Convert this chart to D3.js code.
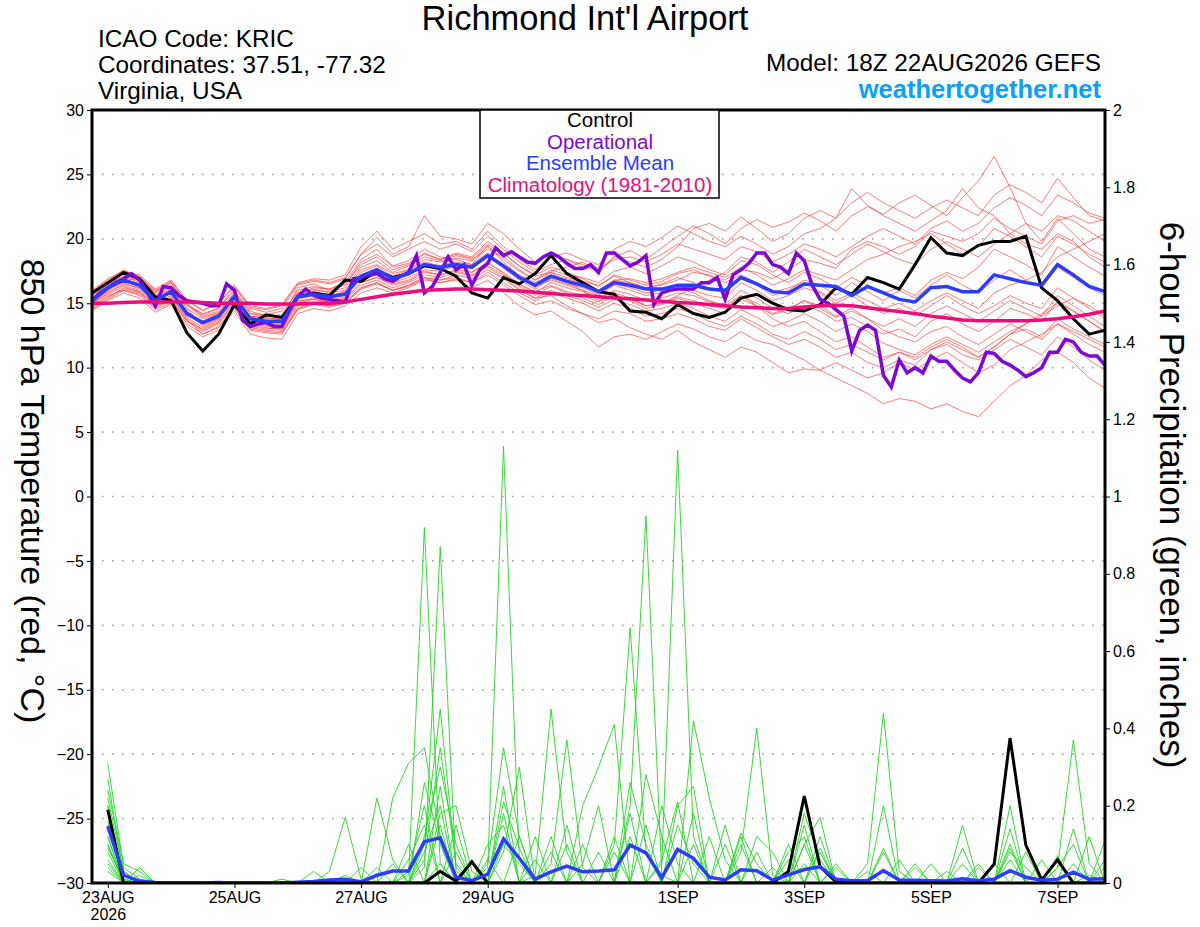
<!DOCTYPE html>
<html>
<head>
<meta charset="utf-8">
<script src="https://cdn.jsdelivr.net/npm/d3@7"></script>
<style>
  body { margin: 0; background: #fff; }
  svg text { font-family: "Liberation Sans", Arial, Helvetica, sans-serif; }
</style>
</head>
<body>
<svg id="chart" width="1200" height="927"></svg>
<script>
// ---- data (6-hourly from 22AUG 18Z, operational 3-hourly) ----
var controlTemp = [15.8,16.6,17.4,16.9,15.5,15.2,12.7,11.3,12.6,14.9,13.4,14.1,13.9,
  15.5,15.8,15.6,16.8,16.7,17.5,17.0,17.3,17.9,17.7,17.1,15.8,15.4,
  17.0,16.5,17.3,18.7,17.3,16.6,15.9,15.7,14.4,14.3,13.8,14.9,14.2,
  13.9,14.3,15.4,15.7,15.0,14.5,14.4,14.9,16.2,15.7,17.0,16.6,16.1,
  18.0,20.1,18.9,18.7,19.5,19.8,19.8,20.2,16.2,15.2,13.8,12.6,12.9];

var meanTemp = [15.2,16.2,16.8,16.4,15.2,15.9,14.2,13.5,14.0,15.5,13.8,13.6,13.6,
  15.5,15.7,15.5,15.7,17.1,17.6,16.9,17.3,18.0,17.8,18.0,17.8,18.7,
  17.9,17.0,16.4,17.1,16.7,16.4,15.9,16.6,16.4,16.1,16.1,16.4,16.4,
  16.1,16.0,17.0,16.5,15.9,15.8,16.5,16.4,16.3,15.6,16.3,15.8,15.3,
  15.1,16.2,16.3,15.9,15.9,17.2,16.9,16.6,16.4,18.0,17.2,16.3,15.9];

var climoTemp = [15.0,15.0,15.05,15.1,15.1,15.1,15.1,15.05,15.0,
  15.0,15.0,14.95,14.95,14.95,15.0,15.0,15.1,
  15.3,15.5,15.7,15.85,16.0,16.05,16.1,16.1,
  16.05,16.0,15.95,15.85,15.75,15.65,15.6,15.5,
  15.4,15.35,15.25,15.15,15.05,15.0,14.9,14.8,
  14.7,14.65,14.6,14.6,14.7,14.8,14.85,14.8,
  14.65,14.5,14.35,14.2,14.0,13.85,13.7,13.65,
  13.65,13.65,13.65,13.7,13.8,13.95,14.15,14.4];

// operational run, 3-hourly
var operTemp = [15.2,15.8,16.2,16.6,16.9,17.3,16.8,15.8,14.8,16.3,
  16.2,15.6,15.2,15.1,15.0,14.8,14.8,16.5,16.0,13.7,
  13.2,13.4,13.5,13.2,13.2,14.5,15.5,16.1,15.6,15.4,
  15.3,15.2,15.1,16.9,17.0,17.2,17.3,16.9,16.7,17.1,
  17.4,18.7,15.8,16.3,17.4,18.6,17.6,18.0,16.4,17.6,
  18.1,19.3,18.7,19.0,18.6,18.2,18.1,18.6,18.9,18.6,
  18.1,17.7,17.7,18.0,17.4,18.9,18.9,18.4,17.9,18.2,
  18.7,14.9,15.8,16.0,16.1,16.1,16.1,16.6,16.6,17.0,
  15.3,17.2,17.6,18.1,18.9,18.9,18.0,17.8,17.3,18.9,
  18.3,16.4,15.3,15.0,14.5,14.0,11.3,12.9,13.3,12.9,
  9.4,8.5,10.6,9.6,10.0,9.6,10.9,10.5,10.5,9.8,
  9.2,8.9,9.6,11.2,11.1,10.5,10.2,9.8,9.3,9.6,
  10.0,11.2,11.2,12.2,12.0,11.2,10.9,10.9,10.2];

// perturbed members, 850 hPa temperature
var memberTemp = [
  [15.0,16.0,16.9,16.8,15.6,16.3,14.6,13.2,13.8,15.9,14.4,14.0,13.9,
   16.2,16.5,16.0,16.4,18.2,18.8,17.9,18.3,19.2,18.6,18.4,18.0,19.5,
   18.2,17.1,16.2,17.5,17.8,18.2,17.4,18.6,19.1,18.4,19.3,20.2,21.0,
   20.4,19.6,20.8,21.5,20.9,21.3,22.0,21.4,20.6,21.8,22.5,21.9,22.8,
   23.4,22.6,21.8,23.2,24.5,26.4,24.0,21.2,19.8,21.6,20.4,19.2,18.6],
  [14.6,15.4,16.2,15.9,14.8,15.2,13.6,12.8,13.4,14.8,13.1,12.9,12.8,
   14.6,15.0,14.8,15.2,16.4,16.8,16.2,16.6,17.2,17.0,17.4,17.1,17.8,
   17.0,16.1,15.4,15.6,14.8,14.2,13.5,13.8,13.1,12.6,12.2,12.9,12.0,
   11.4,10.8,11.6,11.2,10.4,9.6,9.9,9.8,9.2,8.6,8.0,7.2,7.6,
   7.4,6.8,7.2,6.6,6.2,7.4,8.6,9.4,10.6,11.2,10.4,9.2,8.4],
  [15.6,16.5,17.1,16.6,15.4,16.1,14.8,14.2,14.6,16.0,14.2,14.1,14.4,
   15.8,16.2,16.1,16.6,18.4,19.2,17.8,18.1,18.9,18.4,18.8,18.5,19.6,
   18.8,17.9,17.2,17.8,17.4,16.9,16.3,17.2,16.8,16.4,16.7,17.3,17.6,
   17.1,16.8,17.6,17.4,16.9,17.6,18.4,18.1,17.7,19.2,19.8,19.4,18.8,
   19.4,20.6,20.2,19.8,20.4,21.6,20.8,20.2,19.6,21.4,21.8,21.2,21.5],
  [14.9,15.8,16.5,16.2,15.0,15.6,13.8,12.9,13.5,15.1,13.2,13.0,13.1,
   15.1,15.4,15.2,15.5,16.9,17.2,16.6,17.0,17.6,17.5,17.9,17.4,18.1,
   17.4,16.5,15.9,16.4,15.9,15.6,15.1,15.7,15.2,14.6,14.9,15.4,15.0,
   14.6,14.2,15.3,14.8,14.1,14.5,15.2,14.6,13.9,14.4,13.8,12.9,12.4,
   12.0,12.8,13.2,12.4,11.8,12.6,13.4,12.8,12.2,13.4,12.6,11.8,11.2],
  [15.4,16.3,17.0,16.9,15.8,16.4,14.9,13.9,14.3,15.7,14.0,13.9,13.7,
   15.7,16.0,15.9,16.2,17.8,18.3,17.4,17.9,18.6,18.3,18.7,18.4,19.2,
   18.6,17.6,16.8,17.6,17.2,17.0,16.6,17.5,17.8,17.3,17.9,18.6,18.2,
   17.6,17.2,18.3,18.0,17.2,16.6,17.4,16.9,16.2,17.0,16.4,15.8,16.2,
   15.6,16.8,17.4,16.9,17.8,19.2,18.6,18.0,17.2,19.4,18.6,17.8,17.1],
  [15.0,15.9,16.4,16.0,14.9,15.5,14.0,13.6,14.2,15.3,13.5,13.3,13.2,
   15.2,15.3,15.1,15.3,16.6,17.0,16.5,16.8,17.5,17.2,17.6,17.4,18.2,
   17.3,16.4,15.8,16.6,16.2,15.9,15.4,16.0,15.7,15.2,15.4,15.8,15.6,
   15.1,14.9,16.0,15.4,14.6,14.2,14.8,14.4,13.6,13.9,13.2,12.6,13.0,
   12.4,13.6,14.2,13.4,12.8,13.6,14.6,14.2,13.6,15.2,14.4,13.6,12.8],
  [15.8,16.7,17.4,17.2,16.1,16.8,15.2,14.4,15.0,16.4,14.8,14.6,14.9,
   16.6,16.9,16.8,17.2,19.4,20.6,19.2,19.8,20.4,19.6,19.8,19.2,20.6,
   19.4,18.4,17.6,18.6,18.9,18.4,18.0,19.2,19.8,19.4,20.1,21.0,20.4,
   19.8,19.4,20.2,19.6,18.8,19.4,20.4,20.8,21.6,23.9,22.6,21.8,21.2,
   20.6,21.4,22.2,23.9,22.4,21.8,20.4,19.6,19.2,20.4,19.8,18.6,17.8],
  [14.4,15.2,15.8,15.4,14.3,14.9,13.2,12.4,12.9,14.4,12.6,12.3,12.2,
   14.2,14.6,14.4,14.8,15.8,16.2,15.8,16.2,16.8,16.6,16.9,16.6,17.2,
   16.4,15.6,14.9,15.2,14.6,14.2,13.8,14.4,14.2,13.6,13.8,14.2,13.8,
   13.2,12.9,13.8,13.1,12.4,11.8,12.2,11.6,10.8,11.2,10.4,10.0,10.6,
   10.2,11.4,11.8,11.0,10.6,11.4,12.2,11.6,11.0,12.4,11.6,10.6,9.8],
  [15.3,16.1,16.7,16.3,15.3,16.0,14.4,13.4,13.8,15.4,13.7,13.5,13.4,
   15.4,15.9,15.6,15.9,17.4,17.9,17.1,17.6,18.2,17.9,18.2,18.0,18.9,
   18.0,17.2,16.6,17.2,16.9,16.6,16.0,16.8,16.9,16.6,16.9,17.4,17.8,
   17.4,17.0,17.8,17.2,16.4,16.9,17.6,17.2,16.8,17.6,18.4,18.8,19.4,
   19.8,20.4,19.6,18.8,19.4,20.8,20.2,19.4,18.6,20.2,19.6,18.8,18.2],
  [14.8,15.6,16.0,15.6,14.6,15.2,13.6,13.0,13.6,15.0,13.3,13.1,12.9,
   14.8,15.0,14.9,15.1,16.2,16.6,16.0,16.3,16.9,16.6,16.8,16.2,16.8,
   15.8,14.8,14.1,14.4,13.6,12.8,11.6,12.4,12.6,12.2,12.8,13.4,13.0,
   12.4,12.0,12.8,12.1,11.8,11.2,10.6,9.8,10.4,9.8,9.2,9.6,10.4,
   9.8,10.6,11.2,10.4,9.6,10.2,11.4,12.0,12.6,13.4,12.8,12.2,11.6],
  [15.5,16.4,17.2,16.8,15.5,16.2,14.6,13.8,14.2,15.6,14.0,13.8,13.8,
   15.8,16.1,15.8,16.0,17.6,18.0,17.3,17.6,18.4,18.2,18.5,18.3,19.4,
   18.4,17.5,16.8,17.4,17.0,16.7,16.4,17.1,16.6,16.2,16.4,16.8,17.4,
   17.2,16.6,17.2,16.6,15.8,16.2,16.6,15.9,15.2,15.8,15.2,14.6,15.0,
   14.4,15.2,15.8,15.2,14.6,15.8,16.4,16.8,17.4,18.6,19.2,19.8,20.4],
  [14.7,15.5,16.1,15.8,14.7,15.3,13.7,12.6,13.1,14.6,12.9,12.7,12.6,
   14.5,14.9,14.7,15.0,16.1,16.5,16.0,16.4,17.0,16.8,17.2,16.9,17.6,
   16.9,16.0,15.4,16.0,15.6,15.2,14.7,15.3,14.9,14.4,14.6,15.0,14.6,
   14.0,13.6,14.5,13.9,13.2,13.6,14.2,13.6,12.8,13.4,12.8,11.9,11.4,
   11.0,11.8,12.4,11.8,11.2,12.0,12.8,13.4,14.0,14.8,15.4,14.6,13.8],
  [15.9,16.8,17.6,17.0,15.9,16.6,15.0,14.1,14.6,16.2,14.6,14.3,14.6,
   16.4,16.7,16.5,16.9,18.8,19.6,18.6,19.2,19.8,19.2,19.6,19.0,20.2,
   19.2,18.2,17.4,18.0,18.4,18.0,17.6,18.4,18.6,18.2,18.8,19.6,19.2,
   18.8,18.4,19.4,19.0,18.2,18.8,19.6,19.2,18.6,19.4,20.2,20.8,20.2,
   19.6,20.8,21.4,20.6,21.2,22.4,23.2,22.6,21.8,23.4,22.8,22.0,21.6],
  [15.1,16.0,16.6,16.1,15.1,15.8,14.1,13.3,13.9,15.4,13.6,13.4,13.3,
   15.3,15.6,15.4,15.6,17.0,17.5,16.8,17.2,17.9,17.6,18.0,17.7,18.6,
   17.7,16.8,16.1,16.9,16.5,16.2,15.7,16.5,16.2,15.8,16.0,16.4,16.0,
   15.6,15.4,16.6,16.0,15.2,15.6,16.2,15.8,15.0,15.6,14.8,14.2,14.6,
   14.0,14.8,15.6,14.8,14.2,14.8,15.6,15.0,14.6,16.2,15.4,14.8,14.0],
  [15.6,16.6,17.3,17.0,15.9,16.6,14.9,14.0,14.4,15.8,14.2,14.0,14.1,
   16.0,16.3,16.1,16.5,18.0,18.6,17.6,18.0,18.8,18.4,18.9,18.6,19.8,
   18.9,17.9,17.1,17.4,16.6,16.0,15.2,15.8,15.4,14.8,15.0,15.6,16.2,
   16.8,17.4,18.6,18.2,17.4,18.2,19.2,18.6,18.0,18.8,19.6,19.0,18.4,
   18.0,19.2,19.8,19.2,18.6,19.6,20.4,21.2,20.6,21.8,21.4,20.6,19.8],
  [14.5,15.3,16.0,15.7,14.5,15.0,13.4,12.6,13.2,14.7,13.0,12.8,12.7,
   14.6,15.0,14.8,15.0,16.2,16.6,16.0,16.4,17.0,16.8,17.0,16.6,17.4,
   16.6,15.8,15.2,15.8,15.4,15.0,14.4,15.0,14.6,14.0,14.2,14.6,14.2,
   13.6,13.2,14.0,13.4,12.6,12.2,12.8,12.2,11.4,11.8,11.2,10.6,11.2,
   10.8,11.6,12.2,11.6,10.8,11.6,12.6,13.0,12.4,13.8,13.0,12.4,11.8],
  [15.2,16.2,16.9,16.5,15.3,16.0,14.3,13.5,14.0,15.6,13.9,13.7,13.5,
   15.6,15.8,15.6,15.8,17.2,17.7,17.0,17.4,18.0,17.7,18.1,17.9,18.7,
   17.8,17.0,16.4,17.0,16.8,16.4,16.0,16.8,16.6,16.2,16.5,17.0,16.6,
   16.2,15.8,16.9,16.4,15.6,16.0,16.8,16.4,15.6,16.6,15.9,15.2,16.0,
   15.4,16.4,17.2,16.4,15.8,16.8,17.6,16.8,16.2,17.8,17.0,16.2,15.6],
  [15.0,15.7,16.3,15.9,14.8,15.4,13.9,13.1,13.7,15.2,13.4,13.2,13.0,
   15.0,15.3,15.1,15.4,16.6,17.0,16.4,16.7,17.4,17.2,17.5,17.2,17.9,
   17.2,16.3,15.6,16.3,15.8,15.4,14.9,15.6,15.3,14.8,15.0,15.5,15.2,
   14.8,14.6,15.6,15.0,14.2,14.6,15.2,14.8,14.0,14.6,13.8,13.2,13.8,
   13.2,14.2,14.8,14.2,13.6,14.4,15.2,14.6,14.0,15.6,14.8,14.0,13.2],
  [16.0,16.9,17.5,17.1,16.0,16.7,15.2,14.5,15.0,16.3,14.7,14.5,14.8,
   16.5,16.8,16.6,17.0,18.8,20.1,18.8,19.4,21.8,20.2,20.0,19.6,21.2,
   20.4,19.2,18.2,18.8,18.4,17.8,17.6,18.6,18.2,17.8,18.4,19.4,20.8,
   21.2,20.6,21.7,20.8,19.8,20.4,21.6,22.2,21.6,22.8,23.6,22.8,22.2,
   21.6,22.4,23.0,22.4,21.8,23.4,24.2,23.6,22.8,24.7,23.2,21.8,21.4],
  [15.3,16.2,16.8,16.4,15.2,15.8,14.2,13.4,14.0,15.5,13.8,13.6,13.5,
   15.5,15.8,15.6,15.8,17.2,17.6,16.9,17.3,18.0,17.8,18.1,17.8,18.8,
   17.9,17.0,16.3,16.8,16.4,16.0,15.6,16.4,16.0,15.6,15.8,16.2,15.8,
   15.2,14.8,15.6,14.8,13.8,13.2,13.6,12.8,12.0,12.4,11.6,10.8,11.2,
   10.6,11.4,12.0,11.4,10.8,11.6,12.6,13.4,14.2,15.0,14.4,13.6,12.8]
];

// 6-hour precipitation, 23AUG 00Z .. 7SEP 18Z
var controlPrecip = [.19,0,0,0,0,0,0,0,0,0,0,0,0,0,0,0,
  0,0,0,0,0,.03,.005,.055,0,0,0,0,0,0,0,0,
  0,0,0,0,0,0,0,0,0,0,0,.03,.225,.042,.003,0,
  0,0,0,0,0,0,0,0,.049,.375,.098,.008,.06,0,0,0];

var meanPrecip = [.147,.02,.005,.001,0,0,0,.001,0,0,0,0,.002,.004,.008,.01,
  .003,.02,.031,.031,.107,.117,.015,.006,.023,.114,.064,.01,.029,.044,.029,.031,
  .034,.098,.078,.014,.087,.064,.015,.008,.034,.032,.008,.021,.035,.042,.01,.006,
  .006,.032,.008,.007,.006,.005,.011,.006,.01,.032,.015,.007,.01,.028,.01,.011];

var memberPrecip = [
  [.31,.04,.01,0,0,0,0,0,0,0,0,0,0,0,0,0, 0,0,0,.02,.92,.05,0,0,0,0,0,0,0,0,0,0,
   0,.26,.1,0,0,0,0,0,0,0,0,0,0,0,0,0, .05,.44,.03,0,0,0,0,0,0,.06,0,0,0,0,0,0],
  [.27,.02,0,0,0,0,0,0,0,0,0,0,0,0,0,0, 0,0,0,0,.04,.87,.03,0,0,0,0,0,0,0,0,0,
   0,0,0,.05,1.12,.12,0,0,0,0,0,0,.18,.06,0,0, 0,0,0,0,0,0,0,0,0,0,0,0,.04,.37,.05,0],
  [.24,.05,.03,0,0,0,0,0,0,0,0,0,0,0,0,0, 0,0,0,0,0,0,0,0,.04,1.13,.06,0,0,0,0,0,
   0,0,0,0,0,0,0,0,.08,.4,.02,0,0,0,0,0, 0,0,0,0,0,0,.15,0,0,0,0,0,0,0,0,0],
  [.2,0,0,0,0,0,0,0,0,0,0,0,0,0,.03,.17, .01,0,0,0,.1,.45,.04,0,0,0,0,0,0,0,0,0,
   0,.2,.95,.02,0,0,0,0,0,0,0,0,.1,.17,0,0, 0,0,0,0,0,0,0,0,0,0,0,0,0,0,0,0],
  [.18,.02,0,0,0,0,0,0,0,0,0,0,0,0,0,0, 0,.22,.06,0,0,0,0,0,.05,.35,.12,0,0,0,0,0,
   0,0,0,0,0,.42,.22,.06,0,0,0,0,0,0,0,0, 0,0,0,0,0,0,0,0,0,0,0,0,0,0,0,0],
  [.16,0,0,0,0,0,0,0,0,0,0,0,0,0,0,0, 0,0,.22,.31,.35,.12,.02,0,0,0,0,.02,.45,.08,0,0,
   0,0,0,0,0,0,0,0,0,0,0,.08,.12,0,0,0, 0,0,0,0,0,0,0,0,0,.09,0,0,0,0,0,0],
  [.14,.03,0,0,0,0,0,0,0,0,0,0,0,0,0,0, 0,0,0,0,.26,.1,0,0,0,0,0,0,0,0,0,0,
   .1,.66,.08,0,0,0,0,0,0,0,0,0,0,0,0,0, 0,.2,0,0,0,0,0,0,0,0,0,0,0,.14,0,0],
  [.12,0,0,0,0,0,0,0,0,0,0,0,0,0,0,0, 0,0,0,0,.06,.35,.05,0,0,0,0,0,.05,.37,.04,0,
   0,0,0,0,0,0,0,0,.13,.05,0,0,0,0,0,0, 0,0,0,0,0,0,0,0,0,0,0,0,0,0,0,.11],
  [.1,0,0,0,0,0,0,0,0,0,0,0,0,0,0,0, 0,0,0,0,0,.18,.2,.03,0,.08,.3,0,0,0,.2,.3,
   .41,0,0,0,0,0,0,0,0,0,0,0,0,.08,0,0, 0,0,0,0,0,0,0,0,0,0,0,0,.07,0,0,0],
  [.09,.01,0,0,0,0,0,0,0,0,0,0,0,0,0,0, 0,0,0,0,0,0,0,0,0,.21,.09,0,0,0,.05,.2,
   0,0,0,0,.2,.25,0,0,0,0,0,0,0,0,0,0, 0,0,0,0,0,0,.09,0,0,.2,0,0,0,0,0,0],
  [.08,0,0,0,0,0,0,0,0,0,0,0,0,.03,0,0, 0,0,0,.06,.15,0,0,0,.1,.15,0,0,0,0,0,0,
   0,0,.28,.12,0,0,0,0,0,0,0,.1,0,0,0,0, 0,.09,0,0,0,0,0,0,.05,0,0,0,0,0,0,0],
  [.06,0,0,0,0,0,0,0,0,0,0,0,0,0,0,0, 0,0,0,0,0,0,.08,0,0,0,0,.12,0,0,0,0,
   0,0,0,.06,.21,0,0,.15,0,0,0,0,0,0,.05,0, 0,0,0,.05,0,0,0,0,0,0,.08,0,0,0,0,0],
  [.05,0,.04,0,0,0,0,0,0,0,0,0,0,0,0,0, 0,0,0,.1,0,0,0,.05,0,0,0,0,0,.15,0,0,
   0,0,0,0,0,.18,0,0,0,.12,.08,0,0,.12,0,0, 0,0,0,0,0,0,0,.04,0,0,0,0,0,0,0,0],
  [.04,0,0,0,0,0,0,0,0,0,0,.01,0,0,0,0, 0,0,0,0,.08,.2,0,0,0,0,.12,0,0,0,0,0,
   .12,0,0,0,0,0,0,0,.1,0,0,0,.15,0,0,0, 0,0,0,0,.05,0,0,0,0,0,0,.06,0,0,0,.04],
  [.03,0,0,0,0,0,0,0,0,0,0,0,0,0,0,0, 0,0,0,0,0,.05,0,0,0,.25,0,0,.08,0,0,0,
   0,0,.15,0,0,0,.12,0,0,0,0,0,.05,0,0,0, 0,.08,0,0,0,0,0,0,0,.1,0,0,0,.05,0,0],
  [.12,0,0,0,0,0,0,0,0,0,0,0,0,0,0,0, .04,0,0,0,.12,.3,.1,0,0,0,0,.06,0,0,0,0,
   0,.12,0,0,0,0,0,.1,0,0,0,0,0,.09,0,0, 0,0,0,0,0,.03,0,0,0,0,0,0,0,0,.12,0],
  [.1,0,0,0,0,0,0,0,0,0,0,0,0,0,0,0, 0,0,.05,0,0,0,.15,0,0,.1,.05,0,0,0,.1,0,
   0,0,0,.2,.05,0,0,0,0,0,0,.06,0,0,0,0, 0,0,.06,0,0,0,0,0,0,.08,.04,0,0,0,0,0],
  [.15,.01,0,0,0,0,0,0,0,0,0,0,0,0,0,0, 0,.04,0,0,0,.25,0,0,0,0,0,0,.12,0,0,0,
   .08,0,0,0,0,.1,0,0,.12,0,0,0,0,0,.04,0, 0,0,0,0,0,0,.05,0,0,0,0,0,.04,.1,0,0],
  [.2,0,.02,0,0,0,0,0,0,0,0,0,0,0,0,0, 0,0,0,.03,.2,0,0,0,.06,0,0,0,0,.1,0,0,
   0,0,0,0,.15,.05,0,0,0,0,.04,0,0,0,0,0, .03,0,0,0,0,0,0,.05,0,0,0,0,0,0,0,.06],
  [.22,.03,0,0,0,0,0,0,0,0,0,0,0,0,0,.02, 0,0,0,0,0,.15,0,0,0,.18,0,0,0,0,0,.08,
   0,.18,0,0,0,0,0,0,0,.08,0,0,.1,0,0,0, 0,0,0,.04,0,0,0,0,0,.14,0,0,0,0,.02,0]
];

// axis ticks and labels
var tempTicks = [-30,-25,-20,-15,-10,-5,0,5,10,15,20,25,30];
var precipTicks = [0,0.2,0.4,0.6,0.8,1,1.2,1.4,1.6,1.8,2];
var dayTicks = ['2026-08-23','2026-08-25','2026-08-27','2026-08-29','2026-09-01','2026-09-03','2026-09-05','2026-09-07'];
var dayLabels = ['23AUG','25AUG','27AUG','29AUG','1SEP','3SEP','5SEP','7SEP'];
var legendItems = ['Control','Operational','Ensemble Mean','Climatology (1981-2010)'];
var legendColors = ['#000000','#7c07d8','#2b3cff','#ec0c7c'];

// ---- layout ----
var svg = d3.select('#chart');
var plotLeft = 92, plotRight = 1105, plotTop = 110, plotBottom = 883;
var start = Date.UTC(2026, 7, 22, 18);
var hour = 3600 * 1000;

var x = d3.scaleUtc()
  .domain([new Date(start), new Date(start + 384 * hour)])
  .range([plotLeft, plotRight]);
var yT = d3.scaleLinear().domain([-30, 30]).range([plotBottom, plotTop]);
var yP = d3.scaleLinear().domain([0, 2]).range([plotBottom, plotTop]);

// turn a value array into points, step in hours, first value at offset hours
function series(values, step, offset) {
  return values.map(function (v, i) {
    return { t: new Date(start + (offset + i * step) * hour), v: v };
  });
}

var tempLine = d3.line().x(function (d) { return x(d.t); }).y(function (d) { return yT(d.v); });
var precipLine = d3.line().x(function (d) { return x(d.t); }).y(function (d) { return yP(d.v); });

svg.append('rect').attr('width', 1200).attr('height', 927).attr('fill', '#fff');

svg.append('defs').append('clipPath').attr('id', 'plotClip')
  .append('rect').attr('x', plotLeft).attr('y', plotTop)
  .attr('width', plotRight - plotLeft).attr('height', plotBottom - plotTop);

// dotted horizontal grid
svg.append('g').selectAll('line')
  .data(tempTicks.filter(function (t) { return t > -30 && t < 30; }))
  .enter().append('line')
  .attr('x1', plotLeft).attr('x2', plotRight)
  .attr('y1', function (d) { return yT(d); }).attr('y2', function (d) { return yT(d); })
  .attr('stroke', '#a8a8a8').attr('stroke-width', 1.6)
  .attr('stroke-dasharray', '1.6,8.4');

var plot = svg.append('g').attr('clip-path', 'url(#plotClip)');

// ensemble members
plot.append('g').selectAll('path')
  .data(memberTemp).enter().append('path')
  .attr('d', function (d) { return tempLine(series(d, 6, 0)); })
  .attr('fill', 'none').attr('stroke', '#ff3b3b').attr('stroke-width', 0.9).attr('opacity', 0.75);

plot.append('g').selectAll('path')
  .data(memberPrecip).enter().append('path')
  .attr('d', function (d) { return precipLine(series(d, 6, 6)); })
  .attr('fill', 'none').attr('stroke', '#1fd81f').attr('stroke-width', 0.9);

// control / operational / mean / climatology
plot.append('path').attr('d', precipLine(series(controlPrecip, 6, 6)))
  .attr('fill', 'none').attr('stroke', '#000').attr('stroke-width', 3);
plot.append('path').attr('d', precipLine(series(meanPrecip, 6, 6)))
  .attr('fill', 'none').attr('stroke', legendColors[2]).attr('stroke-width', 3.5);

plot.append('path').attr('d', tempLine(series(controlTemp, 6, 0)))
  .attr('fill', 'none').attr('stroke', '#000').attr('stroke-width', 3);
plot.append('path').attr('d', tempLine(series(operTemp, 3, 0)))
  .attr('fill', 'none').attr('stroke', legendColors[1]).attr('stroke-width', 3.5);
plot.append('path').attr('d', tempLine(series(meanTemp, 6, 0)))
  .attr('fill', 'none').attr('stroke', legendColors[2]).attr('stroke-width', 3.5);
plot.append('path').attr('d', tempLine(series(climoTemp, 6, 0)))
  .attr('fill', 'none').attr('stroke', legendColors[3]).attr('stroke-width', 3.5);

// ---- axes ----
var axisLeft = svg.append('g').attr('transform', 'translate(' + plotLeft + ',0)')
  .call(d3.axisLeft(yT).tickValues(tempTicks).tickSize(5).tickPadding(3).tickSizeOuter(0));
var axisRight = svg.append('g').attr('transform', 'translate(' + plotRight + ',0)')
  .call(d3.axisRight(yP).tickValues(precipTicks).tickSize(5).tickPadding(3).tickSizeOuter(0)
    .tickFormat(d3.format('~g')));
var axisBottom = svg.append('g').attr('transform', 'translate(0,' + plotBottom + ')')
  .call(d3.axisBottom(x)
    .tickValues(dayTicks.map(function (d) { return new Date(d + 'T00:00:00Z'); }))
    .tickSize(5).tickPadding(4).tickSizeOuter(0)
    .tickFormat(function (d, i) { return dayLabels[i]; }));

[axisLeft, axisRight, axisBottom].forEach(function (g) {
  g.select('.domain').remove();
  g.selectAll('line').attr('stroke', '#000').attr('stroke-width', 1);
  g.selectAll('text').attr('font-size', 16).attr('fill', '#000')
    .attr('font-family', '"Liberation Sans", Arial, sans-serif');
});
axisBottom.select('.tick text').clone()
  .attr('dy', '1.75em').text('2026');

// thick frame
svg.append('rect').attr('x', plotLeft).attr('y', plotTop)
  .attr('width', plotRight - plotLeft).attr('height', plotBottom - plotTop)
  .attr('fill', 'none').attr('stroke', '#000').attr('stroke-width', 3);

// ---- legend ----
svg.append('rect').attr('x', 480).attr('y', plotTop).attr('width', 239).attr('height', 88)
  .attr('fill', '#fff').attr('stroke', '#000').attr('stroke-width', 1.5);
svg.append('g').selectAll('text')
  .data(legendItems).enter().append('text')
  .attr('x', 600).attr('y', function (d, i) { return 127 + i * 21.7; })
  .attr('text-anchor', 'middle').attr('font-size', 20.5)
  .attr('fill', function (d, i) { return legendColors[i]; })
  .text(function (d) { return d; });

// ---- titles ----
svg.append('text').attr('x', 585).attr('y', 30).attr('text-anchor', 'middle')
  .attr('font-size', 34.5).text("Richmond Int'l Airport");

var info = ['ICAO Code: KRIC', 'Coordinates: 37.51, -77.32', 'Virginia, USA'];
svg.append('g').selectAll('text').data(info).enter().append('text')
  .attr('x', 98).attr('y', function (d, i) { return 47 + i * 26; })
  .attr('font-size', 24.3).text(function (d) { return d; });

svg.append('text').attr('x', 1101).attr('y', 71).attr('text-anchor', 'end')
  .attr('font-size', 24.3).text('Model: 18Z 22AUG2026 GEFS');
svg.append('text').attr('x', 1101).attr('y', 98).attr('text-anchor', 'end')
  .attr('font-size', 25.5).attr('font-weight', 'bold').attr('fill', '#0aa0ff')
  .text('weathertogether.net');

svg.append('text').attr('transform', 'translate(21,491) rotate(90)')
  .attr('text-anchor', 'middle').attr('font-size', 34)
  .text('850 hPa Temperature (red, \u00B0C)');
svg.append('text').attr('transform', 'translate(1160,495) rotate(90)')
  .attr('text-anchor', 'middle').attr('font-size', 35)
  .text('6-hour Precipitation (green, inches)');
</script>
</body>
</html>
